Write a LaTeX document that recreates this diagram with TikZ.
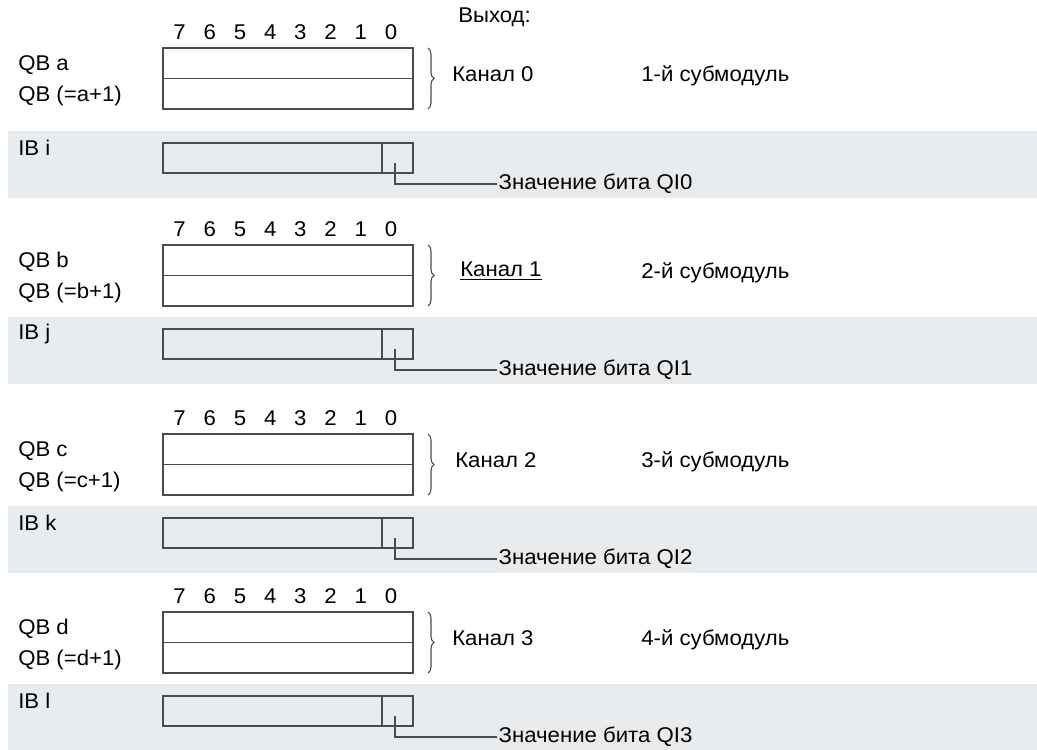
\documentclass[tikz,border=0pt]{standalone}
\usepackage{fontspec}
\setmainfont{Liberation Sans}[FakeStretch=1.04]
\usetikzlibrary{decorations.pathreplacing}

\definecolor{bandgrey}{RGB}{230,236,240}
\definecolor{markgrey}{RGB}{234,234,234}
\definecolor{linegrey}{RGB}{75,75,75}

\tikzset{
  lbl/.style={anchor=west, inner sep=0pt, font=\fontsize{16}{18}\selectfont},
  bitnum/.style={inner sep=0pt, font=\fontsize{16}{18}\selectfont},
  val/.style={lbl, fill=markgrey, inner sep=1pt},
  reg/.style={draw=linegrey, line width=0.9pt},
}

\begin{document}
\begin{tikzpicture}[x=0.75pt, y=-0.75pt]
  \useasboundingbox (0,0) rectangle (1037,749);
  \node[lbl] (out) at (458,17) {Выход:};

  \foreach \n/\m/\T/\B/\q/\ib/\kx/\kan in {
      1/0/48/131/a/i/452/{Канал 0},
      2/1/245/317/b/j/460/{\underline{Канал 1}},
      3/2/434/506/c/k/455/{Канал 2},
      4/3/612/684/d/l/452/{Канал 3}} {
    % band of the input byte
    \fill[bandgrey] (8,\B) rectangle (1037,\B+67);

    % bit numbers and output word
    \foreach \b in {0,...,7}
      \node[bitnum] (bit\n-\b) at (391-30.2*\b,\T-16) {\b};
    \draw[reg] (163,\T) rectangle (413,\T+61);
    \draw[reg] (163,\T+30.5) -- (413,\T+30.5);
    \node[lbl] (qbh\n) at (18,\T+17) {QB \q};
    \node[lbl] (qbl\n) at (18,\T+48) {QB (=\q+1)};
    \draw[reg, line width=0.8pt, decorate, decoration={brace, amplitude=4.5pt}]
      (428,\T) -- (428,\T+61);
    \node[lbl] (kan\n) at (\kx,\T+26) {\kan};
    \node[lbl] (sub\n) at (641,\T+28) {\n-й субмодуль};

    % input byte with bit 0
    \node[lbl] (ib\n) at (18,\B+17) {IB \ib};
    \draw[reg] (163,\B+12) rectangle (413,\B+42);
    \draw[reg] (382,\B+12) -- (382,\B+42);
    \coordinate (tap\n) at (395,\B+32);
    \node[val] (qi\n) at (497,\B+53) {Значение бита QI\m};
    \draw[reg] (tap\n) |- (qi\n.west);
  }
\end{tikzpicture}
\end{document}
